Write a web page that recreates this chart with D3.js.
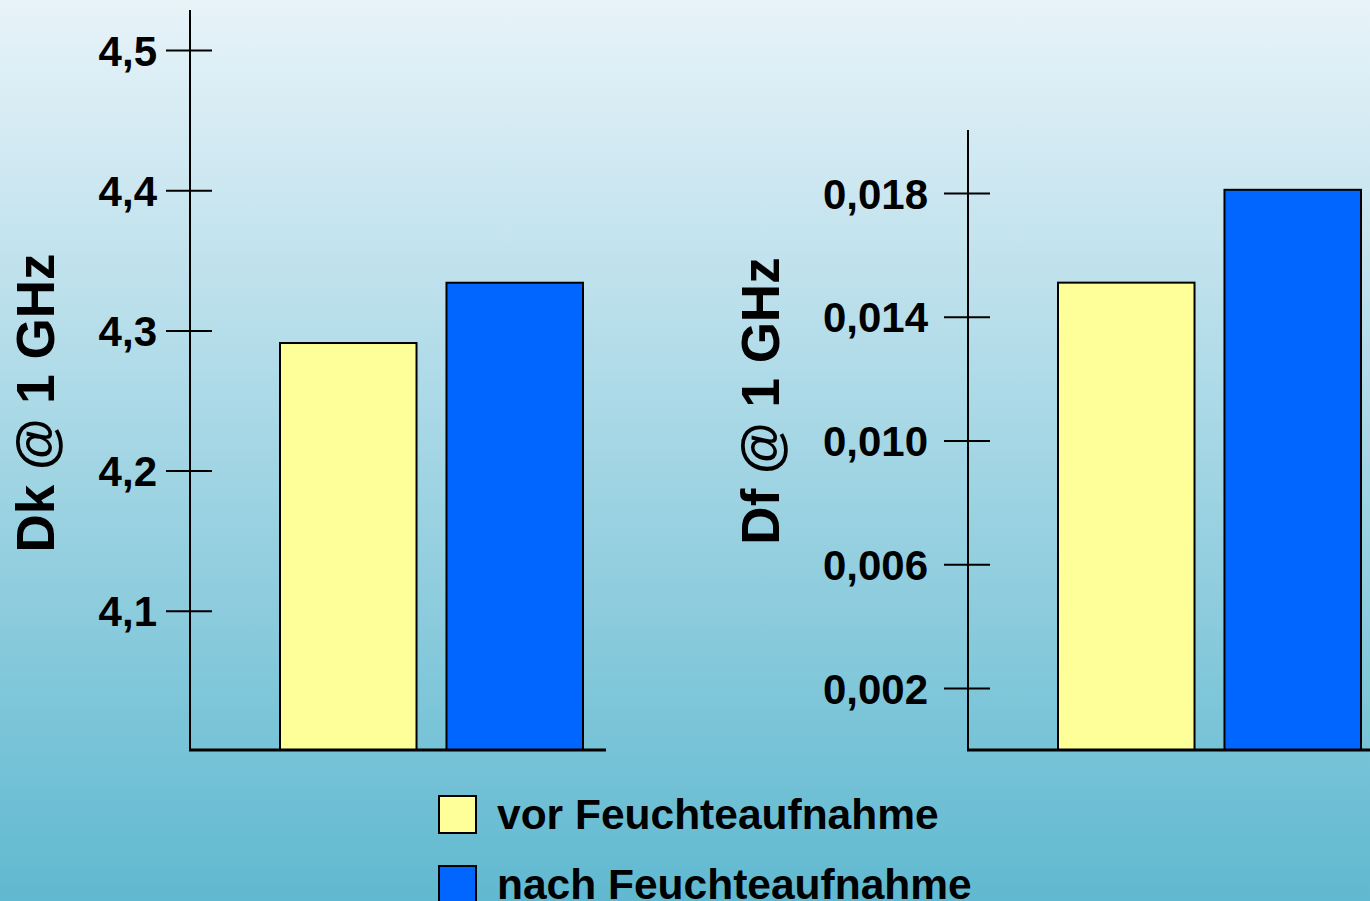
<!DOCTYPE html>
<html>
<head>
<meta charset="utf-8">
<script src="https://cdn.jsdelivr.net/npm/d3@7"></script>
<style>
  html, body { margin: 0; padding: 0; overflow: hidden; }
  svg { display: block; }
  text { font-family: "Liberation Sans", Arial, sans-serif; font-weight: bold; fill: #000; }
</style>
</head>
<body>
<svg id="chart" width="1370" height="901"></svg>
<script>
// Dielectric values before / after moisture uptake
const series = ["vor Feuchteaufnahme", "nach Feuchteaufnahme"];
const colors = ["#ffff99", "#0066ff"];
const dkValues = [4.291, 4.334];
const dfValues = [0.0151, 0.0181];
const dkTicks = [4.1, 4.2, 4.3, 4.4, 4.5];
const dfTicks = [0.002, 0.006, 0.010, 0.014, 0.018];
const dkTitle = "Dk @ 1 GHz";
const dfTitle = "Df @ 1 GHz";

const svg = d3.select("#chart");

// background gradient
const defs = svg.append("defs");
const grad = defs.append("linearGradient")
  .attr("id", "bg").attr("x1", 0).attr("y1", 0).attr("x2", 0).attr("y2", 1);
grad.append("stop").attr("offset", "0%").attr("stop-color", "#e8f3f9");
grad.append("stop").attr("offset", "100%").attr("stop-color", "#60b9d0");
svg.append("rect").attr("width", 1370).attr("height", 901).attr("fill", "url(#bg)");

const fmtComma = (digits) => (d) => d3.format(`.${digits}f`)(d).replace(".", ",");

function panel(opts) {
  const g = svg.append("g");
  const y = d3.scaleLinear().domain(opts.domain).range([opts.bottom, opts.top]);
  const x = d3.scaleBand().domain(series)
    .range([opts.axisX + 90, opts.axisX + 393])
    .paddingInner(0.18).paddingOuter(0);

  // bars
  g.selectAll("rect.bar").data(opts.values).join("rect")
    .attr("class", "bar")
    .attr("x", (d, i) => x(series[i]))
    .attr("width", x.bandwidth())
    .attr("y", d => y(d))
    .attr("height", d => opts.baseY - y(d))
    .attr("fill", (d, i) => colors[i])
    .attr("stroke", "#000")
    .attr("stroke-width", 2);

  // y axis with ticks crossing the axis line
  const axis = d3.axisLeft(y).tickValues(opts.ticks)
    .tickFormat(opts.format).tickSize(24).tickPadding(opts.pad);
  const ag = g.append("g").attr("transform", `translate(${opts.axisX},0)`).call(axis);
  ag.select(".domain").remove();
  ag.selectAll(".tick line").attr("x1", 22).attr("stroke", "#000").attr("stroke-width", 2);
  ag.selectAll(".tick text")
    .attr("font-size", 42).attr("font-family", "Liberation Sans, Arial, sans-serif")
    .attr("font-weight", "bold").attr("fill", "#000").attr("dy", "0.36em");

  // axis lines
  g.append("line").attr("x1", opts.axisX).attr("x2", opts.axisX)
    .attr("y1", opts.axisTop).attr("y2", opts.baseY + 1)
    .attr("stroke", "#000").attr("stroke-width", 2);
  g.append("line").attr("x1", opts.axisX - 1).attr("x2", opts.axisRight)
    .attr("y1", opts.baseY).attr("y2", opts.baseY)
    .attr("stroke", "#000").attr("stroke-width", 3);

  // axis title
  g.append("text")
    .attr("transform", `translate(${opts.titleX},${opts.titleY}) rotate(-90)`)
    .attr("text-anchor", "middle")
    .attr("font-size", 53)
    .text(opts.title);
}

panel({
  domain: [4.0, 4.5], top: 50, bottom: 751, baseY: 750,
  axisX: 190, axisTop: 10, axisRight: 606,
  values: dkValues, ticks: dkTicks, format: fmtComma(1), pad: 9,
  title: dkTitle, titleX: 54, titleY: 403
});

panel({
  domain: [0, 0.02], top: 131, bottom: 750, baseY: 750,
  axisX: 968, axisTop: 130, axisRight: 1372,
  values: dfValues, ticks: dfTicks, format: fmtComma(3), pad: 16,
  title: dfTitle, titleX: 779, titleY: 401
});

// legend
const legend = svg.append("g");
const legendY = [796, 866];
series.forEach((s, i) => {
  legend.append("rect")
    .attr("x", 439).attr("y", legendY[i]).attr("width", 37).attr("height", 37)
    .attr("fill", colors[i]).attr("stroke", "#000").attr("stroke-width", 2);
  legend.append("text")
    .attr("x", 497).attr("y", legendY[i] + 33)
    .attr("font-size", 42.5)
    .text(s);
});
</script>
</body>
</html>
